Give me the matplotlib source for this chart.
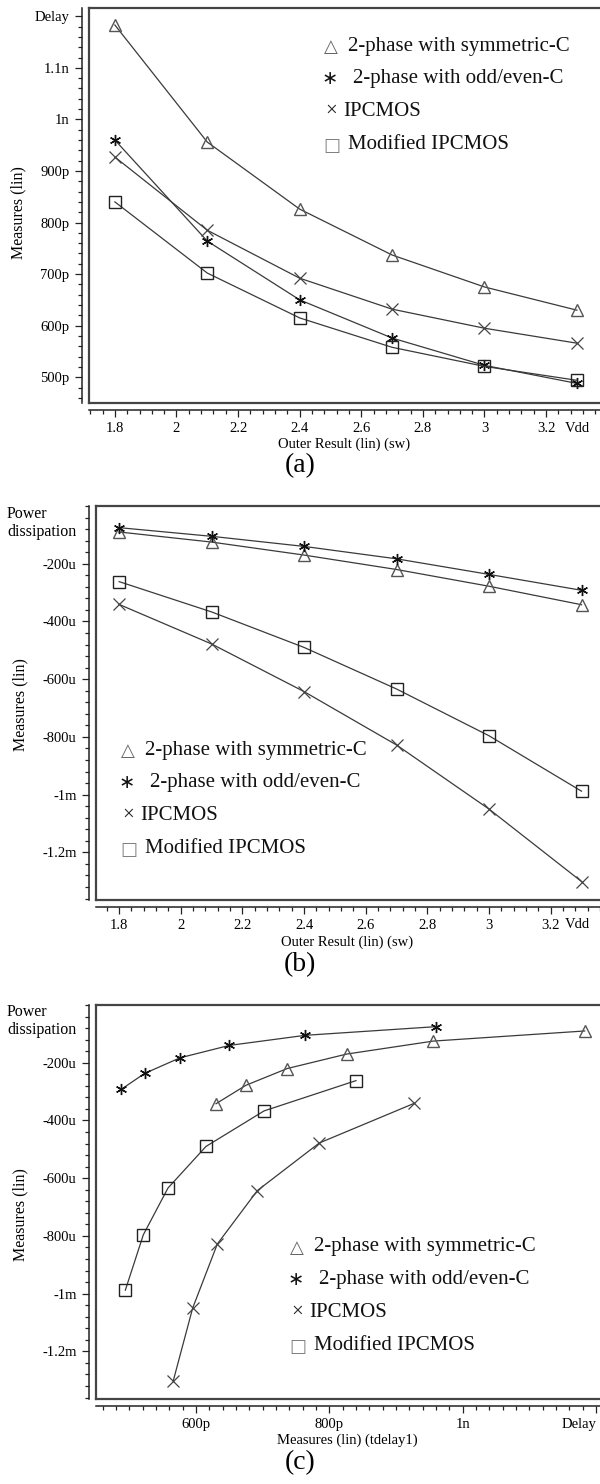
import matplotlib
matplotlib.use('Agg')
import matplotlib.pyplot as plt
from matplotlib.ticker import MultipleLocator

W, H = 600, 1484
plt.rcParams['font.family'] = ['Liberation Serif', 'DejaVu Serif', 'DejaVu Sans']

# ---------------- data ----------------
vdd = [1.8, 2.1, 2.4, 2.7, 3.0, 3.3]
# delay in ps
delay_sym = [1183, 956, 826, 737, 675, 630]
delay_oe = [960, 764, 650, 576, 523, 488]
delay_ip = [927, 785, 692, 632, 595, 566]
delay_mod = [840, 702, 615, 558, 521, 494]
# power in uW (negative, as measured)
power_sym = [-90, -125, -170, -220, -278, -342]
power_oe = [-75, -105, -140, -183, -237, -292]
power_ip = [-341, -478, -643, -828, -1050, -1301]
power_mod = [-262, -367, -490, -634, -796, -988]

series_names = ["2-phase with symmetric-C", "2-phase with odd/even-C",
                "IPCMOS", "Modified IPCMOS"]

vdd_ticks = [1.8, 2.0, 2.2, 2.4, 2.6, 2.8, 3.0, 3.2]
vdd_labels = ["1.8", "2", "2.2", "2.4", "2.6", "2.8", "3", "3.2"]
delay_ticks = [500, 600, 700, 800, 900, 1000, 1100, 1200]
delay_labels = ["500p", "600p", "700p", "800p", "900p", "1n", "1.1n", "Delay"]
power_ticks = [-1200, -1000, -800, -600, -400, -200]
power_labels = ["-1.2m", "-1m", "-800u", "-600u", "-400u", "-200u"]
delay_xticks = [600, 800, 1000, 1200]
delay_xlabels = ["600p", "800p", "1n", "Delay"]

styles = [
    dict(marker='^', mfc='none', mec='#555555', ms=8, mew=1.0),
    dict(marker=(6, 2, 0), mec='#111111', ms=8, mew=1.0),
    dict(marker='x', mec='#444444', ms=8, mew=0.9),
    dict(marker='s', mfc='none', mec='#222222', ms=8.5, mew=1.0),
]
LINEC = '#3a3a3a'
FRAMEC = '#444444'

fig = plt.figure(figsize=(W / 100, H / 100), dpi=100)


def ftext(x, y, s, **kw):
    fig.text(x / W, 1 - y / H, s, **kw)


def make_ax(l, t, r, b):
    return fig.add_axes([l / W, 1 - b / H, (r - l) / W, (b - t) / H])


def style(ax):
    ax.spines['right'].set_visible(False)
    ax.spines['top'].set_color(FRAMEC)
    ax.spines['top'].set_linewidth(1.6)
    for s in ['left', 'bottom']:
        ax.spines[s].set_position(('outward', 5))
        ax.spines[s].set_linewidth(1.1)
        ax.spines[s].set_color('#222222')
    ax.plot([0, 0], [0, 1], transform=ax.transAxes, color=FRAMEC, lw=1.6,
            clip_on=False)
    ax.plot([0, 1], [0, 0], transform=ax.transAxes, color=FRAMEC, lw=1.6,
            clip_on=False)
    ax.tick_params(which='major', direction='out', length=5, width=0.9,
                   labelsize=10.5, pad=4, color='#222222')
    ax.tick_params(which='minor', direction='out', length=2.8, width=0.9,
                   color='#222222')
    ax.tick_params(top=False, right=False)


def draw(ax, xs, ys):
    for x, y, st in zip(xs, ys, styles):
        ax.plot(x, y, color=LINEC, lw=0.9, **st)


def legend(x0, y0):
    dy = 32.7
    sym = [("△", '#666666', ['DejaVu Sans'], 13, -17, 1),
           ("∗", '#111111', ['DejaVu Sans'], 14, -18, 0),
           ("×", '#222222', ['Liberation Serif'], 15, -17, 0),
           ("□", '#808080', ['DejaVu Sans'], 13, -16, 2)]
    tx = [0, 5, -5, 0]
    for i, (name, (g, c, fam, fs, off, dyy)) in enumerate(zip(series_names, sym)):
        y = y0 + i * dy
        ftext(x0 + off, y + dyy, g, color=c,
              family=fam, fontsize=fs, ha='center', va='center')
        ftext(x0 + tx[i], y, name, fontsize=15, ha='left', va='center',
              color='#111111')


# ---------------- panel (a) ----------------
axa = make_ax(89, 8, 600, 403)
style(axa)
draw(axa, [vdd] * 4, [delay_sym, delay_oe, delay_ip, delay_mod])
axa.set_xlim(1.716, 3.375)
axa.set_ylim(450, 1216)
axa.set_xticks(vdd_ticks, vdd_labels)
axa.set_yticks(delay_ticks, delay_labels)
axa.xaxis.set_minor_locator(MultipleLocator(0.04))
axa.yaxis.set_minor_locator(MultipleLocator(20))
ftext(18, 213, "Measures (lin)", rotation=90, fontsize=11.5, ha='center',
      va='center')
ftext(344, 444, "Outer Result (lin) (sw)", fontsize=10.5, ha='center',
      va='center')
ftext(565, 428, "Vdd", fontsize=10.5, ha='left', va='center')
ftext(300, 466, "(a)", fontsize=20, ha='center', va='center')
legend(348, 46)

# ---------------- panel (b) ----------------
axb = make_ax(96, 506, 600, 900)
style(axb)
draw(axb, [vdd] * 4, [power_sym, power_oe, power_ip, power_mod])
axb.set_xlim(1.725, 3.36)
axb.set_ylim(-1365, 0)
axb.set_xticks(vdd_ticks, vdd_labels)
axb.set_yticks(power_ticks, power_labels)
axb.xaxis.set_minor_locator(MultipleLocator(0.04))
axb.yaxis.set_minor_locator(MultipleLocator(40))
ftext(7, 514, "Power", fontsize=11.5, ha='left', va='center')
ftext(7, 532, "dissipation", fontsize=11.5, ha='left', va='center')
ftext(20, 705, "Measures (lin)", rotation=90, fontsize=11.5, ha='center',
      va='center')
ftext(347, 942, "Outer Result (lin) (sw)", fontsize=10.5, ha='center',
      va='center')
ftext(565, 925, "Vdd", fontsize=10.5, ha='left', va='center')
ftext(300, 965, "(b)", fontsize=20, ha='center', va='center')
legend(145, 750)

# ---------------- panel (c) ----------------
axc = make_ax(96, 1005, 600, 1399)
style(axc)
draw(axc, [delay_sym, delay_oe, delay_ip, delay_mod],
     [power_sym, power_oe, power_ip, power_mod])
axc.set_xlim(450, 1206)
axc.set_ylim(-1365, 0)
axc.set_xticks(delay_xticks, delay_xlabels)
axc.set_yticks(power_ticks, power_labels)
axc.xaxis.set_minor_locator(MultipleLocator(20))
axc.yaxis.set_minor_locator(MultipleLocator(40))
axc.get_xticklabels()[-1].set_horizontalalignment('right')
ftext(7, 1012, "Power", fontsize=11.5, ha='left', va='center')
ftext(7, 1030, "dissipation", fontsize=11.5, ha='left', va='center')
ftext(20, 1215, "Measures (lin)", rotation=90, fontsize=11.5, ha='center',
      va='center')
ftext(347, 1440, "Measures (lin) (tdelay1)", fontsize=10.5, ha='center',
      va='center')
ftext(300, 1463, "(c)", fontsize=20, ha='center', va='center')
legend(314, 1247)

fig.savefig('out.png', dpi=100)
